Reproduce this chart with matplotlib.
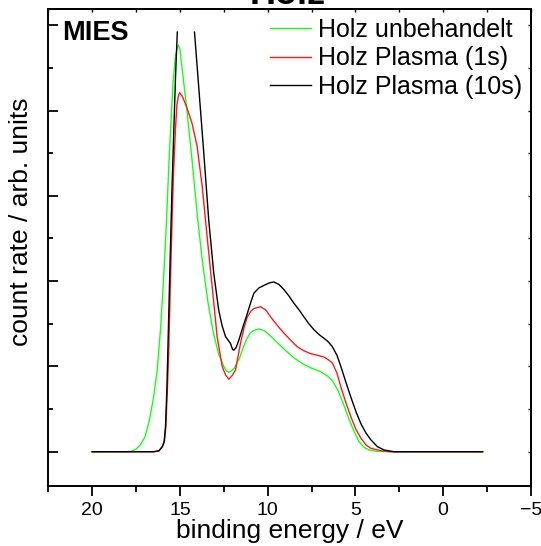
import numpy as np
import matplotlib
matplotlib.use('Agg')
import matplotlib.pyplot as plt
from matplotlib.ticker import MultipleLocator, NullFormatter

plt.rcParams['font.family'] = ['Liberation Sans', 'DejaVu Sans']

# binding energy (eV) / count rate (arb. units)
e_green = [20.0, 18.0, 17.8, 17.5, 17.26, 17.0, 16.75, 16.5, 16.3, 16.1, 15.96, 15.8,
           15.6, 15.4, 15.25, 15.1, 15.0, 14.88, 14.6, 14.3, 14.0, 13.7, 13.4, 13.1,
           12.8, 12.5, 12.35, 12.21, 12.05, 11.9, 11.6, 11.4, 11.2, 11.0, 10.8, 10.5,
           10.2, 9.8, 9.4, 9.0, 8.5, 8.0, 7.5, 7.0, 6.6, 6.3, 6.0, 5.7, 5.4, 5.1, 4.8,
           4.5, 4.2, 3.8, 3.0, -2.25]
c_green = [0.0, 0.0, 0.005, 0.03, 0.08, 0.17, 0.36, 0.64, 0.95, 1.45, 1.93, 2.55,
           3.5, 4.3, 4.65, 4.77, 4.72, 4.5, 4.0, 3.4, 2.75, 2.2, 1.75, 1.4,
           1.15, 1.0, 0.95, 0.93, 0.95, 0.98, 1.1, 1.22, 1.32, 1.39, 1.42, 1.44,
           1.42, 1.35, 1.27, 1.19, 1.1, 1.03, 0.98, 0.94, 0.89, 0.83, 0.72, 0.57, 0.40, 0.25, 0.12,
           0.05, 0.02, 0.005, 0.0, 0.0]

e_red = [20.0, 16.5, 16.2, 16.0, 15.88, 15.8, 15.72, 15.64, 15.55, 15.45, 15.36, 15.25,
         15.17, 15.08, 15.01, 14.85, 14.69, 14.5, 14.31, 14.02, 13.73, 13.45, 13.16, 12.88,
         12.59, 12.4, 12.21, 12.0, 11.83, 11.55, 11.35, 11.16, 10.95, 10.78, 10.4, 10.1,
         9.83, 9.45, 9.07, 8.7, 8.31, 7.9, 7.55, 7.15, 6.79, 6.55, 6.31, 6.05, 5.83,
         5.55, 5.26, 4.97, 4.69, 4.4, 4.12, 3.5, 3.0, -2.25]
c_red = [0.0, 0.0, 0.01, 0.06, 0.12, 0.3, 0.7, 1.15, 1.93, 2.7, 3.3, 3.8,
         4.07, 4.18, 4.21, 4.16, 4.08, 3.97, 3.85, 3.58, 3.11, 2.52, 1.93, 1.35,
         1.0, 0.9, 0.85, 0.9, 0.96, 1.27, 1.45, 1.58, 1.65, 1.68, 1.70, 1.66,
         1.58, 1.48, 1.39, 1.31, 1.23, 1.18, 1.15, 1.13, 1.11, 1.08, 1.04, 0.92, 0.76,
         0.58, 0.41, 0.26, 0.16, 0.08, 0.04, 0.01, 0.0, 0.0]

# black curve runs off the top of the plotted range between ~15.1 and ~14.2 eV
e_black = [20.0, 16.5, 16.2, 16.0, 15.9, 15.82, 15.74, 15.65, 15.55, 15.45, 15.36, 15.25,
           15.15, 15.0, 14.17, 13.93, 13.64, 13.36, 13.07, 12.79, 12.6, 12.4, 12.12,
           12.0, 11.93, 11.8, 11.64, 11.4, 11.16, 10.95, 10.78, 10.5, 10.21, 9.9, 9.64,
           9.35, 9.07, 8.8, 8.5, 8.2, 7.93, 7.65, 7.36, 7.05, 6.79, 6.55, 6.31, 6.05,
           5.83, 5.55, 5.26, 4.95, 4.69, 4.4, 4.12, 3.75, 3.36, 2.8, -2.25]
c_black = [0.0, 0.0, 0.01, 0.06, 0.12, 0.3, 0.76, 1.5, 2.32, 3.1, 3.69, 4.4,
           4.92, np.nan, 4.92, 4.28, 3.5, 2.72, 2.09, 1.66, 1.48, 1.35, 1.27,
           1.2, 1.19, 1.22, 1.31, 1.47, 1.62, 1.76, 1.86, 1.92, 1.95, 1.98, 1.99,
           1.96, 1.90, 1.83, 1.74, 1.66, 1.58, 1.5, 1.43, 1.37, 1.33, 1.29, 1.23, 1.13,
           1.0, 0.82, 0.64, 0.46, 0.33, 0.22, 0.14, 0.06, 0.02, 0.0, 0.0]

labels = ['Holz unbehandelt', 'Holz Plasma (1s)', 'Holz Plasma (10s)']
colors = ['#1aff1a', '#ff1a1a', '#000000']

fig = plt.figure(figsize=(5.41, 5.46), dpi=100)
ax = fig.add_axes([0.0893, 0.1108, 0.892, 0.8736])

ax.plot(e_green, c_green, color=colors[0], lw=1.0, label=labels[0])
ax.plot(e_red, c_red, color=colors[1], lw=1.0, label=labels[1])
ax.plot(e_black, c_black, color=colors[2], lw=1.0, label=labels[2])

ax.set_xlim(22.5, -5)
ax.set_ylim(-0.396, 5.196)

ax.xaxis.set_major_locator(MultipleLocator(5))
ax.xaxis.set_minor_locator(MultipleLocator(2.5))
ax.yaxis.set_major_locator(MultipleLocator(1))
ax.yaxis.set_minor_locator(MultipleLocator(0.5))
ax.yaxis.set_major_formatter(NullFormatter())

for s in ax.spines.values():
    s.set_linewidth(1.4)

ax.tick_params(axis='x', which='both', direction='out', top=False, labelsize=14, pad=5, width=1.3)
ax.tick_params(axis='x', which='major', length=7)
ax.tick_params(axis='x', which='minor', length=4)
ax.tick_params(axis='y', which='both', direction='in', left=True, right=False, width=1.3)
ax.tick_params(axis='y', which='major', length=7)
ax.tick_params(axis='y', which='minor', length=3.5)

# small inward ticks on top and right edges
sec_x = ax.secondary_xaxis('top')
sec_x.xaxis.set_major_locator(MultipleLocator(2.5))
sec_x.tick_params(direction='in', length=2, width=1.0, labelbottom=False, labeltop=False)
sec_x.spines['top'].set_linewidth(1.4)
sec_y = ax.secondary_yaxis('right')
sec_y.yaxis.set_major_locator(MultipleLocator(0.5))
sec_y.tick_params(direction='in', length=2.5, width=1.0, labelright=False)
sec_y.spines['right'].set_linewidth(1.4)

ax.set_xlabel('binding energy / eV', fontsize=19, labelpad=0)
fig.text(21 / 541, 1 - 222 / 546, 'count rate / arb. units', rotation=90,
         ha='center', va='center', fontsize=19)

ax.text(62.5 / 541, 1 - 39.5 / 546, 'MIES', transform=fig.transFigure,
        fontsize=19.5, fontweight='bold', ha='left', va='baseline')
fig.text(288 / 541, 1 - 4 / 546, 'Holz', fontsize=26, fontweight='bold',
         ha='center', va='baseline')

ax.legend(loc='upper left', bbox_to_anchor=(270 / 541, 1 - 18 / 546),
          bbox_transform=fig.transFigure, frameon=False, fontsize=18,
          handlelength=1.63, handletextpad=0.3, labelspacing=0.18,
          borderpad=0, borderaxespad=0)

fig.savefig('out.png', dpi=100)
